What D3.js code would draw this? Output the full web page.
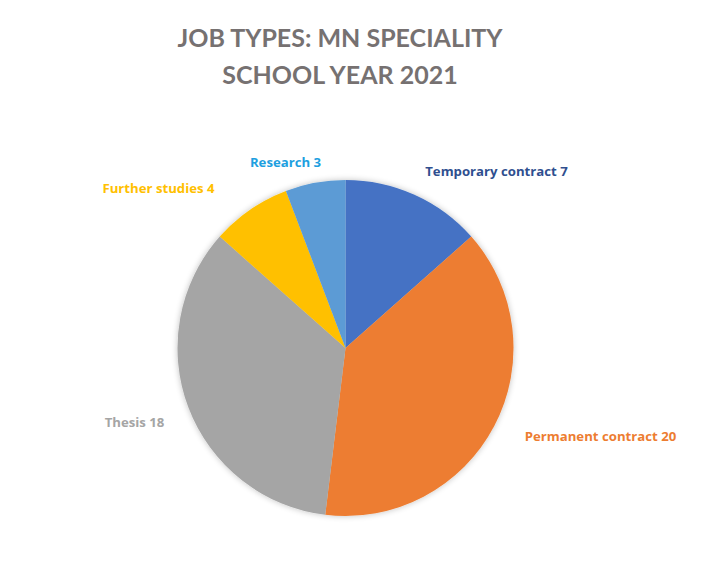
<!DOCTYPE html>
<html><head><meta charset="utf-8">
<script src="https://cdn.jsdelivr.net/npm/d3@7"></script>
<style>body{margin:0;background:#fff;}svg{display:block;font-family:Lato,"Open Sans",sans-serif;}</style>
</head><body>
<svg id="c" width="701" height="579"></svg>
<script>
const categories = ["Temporary contract", "Permanent contract", "Thesis", "Further studies", "Research"];
const values = [7, 20, 18, 4, 3];
const sliceColors = ["#4472C4", "#ED7D31", "#A5A5A5", "#FFC000", "#5B9BD5"];
const labelColors = ["#2F4F8F", "#ED7D31", "#A5A5A5", "#FFC000", "#1E9FE0"];
const titleLines = ["JOB TYPES: MN SPECIALITY", "SCHOOL YEAR 2021"];

const svg = d3.select("#c");
const cx = 345.5, cy = 348, R = 168;
// label anchor offsets relative to the pie centre (layout)
const labelOffsets = [[151, -172], [255, 93], [-211, 79], [-187, -155], [-60, -181]];

const defs = svg.append("defs");
const f = defs.append("filter").attr("id","sh").attr("x","-20%").attr("y","-20%").attr("width","140%").attr("height","140%");
f.append("feGaussianBlur").attr("in","SourceAlpha").attr("stdDeviation",3).attr("result","b");
f.append("feOffset").attr("in","b").attr("dx",0).attr("dy",0).attr("result","o");
f.append("feComponentTransfer").attr("in","o").attr("result","t").append("feFuncA").attr("type","linear").attr("slope",0.25);
const m = f.append("feMerge"); m.append("feMergeNode").attr("in","t"); m.append("feMergeNode").attr("in","SourceGraphic");

svg.append("g").selectAll("text").data(titleLines).join("text")
  .attr("x", 340).attr("y", (d,i)=>47+i*37)
  .attr("text-anchor","middle").attr("font-size",25).attr("font-weight","bold")
  .attr("fill","#767171").text(d=>d);

const pie = d3.pie().sort(null).value(d=>d)(values);
const arc = d3.arc().innerRadius(0).outerRadius(R);
const g = svg.append("g").attr("transform",`translate(${cx},${cy})`);
g.append("g").attr("filter","url(#sh)").selectAll("path").data(pie).join("path")
  .attr("d", arc).attr("fill",(d,i)=>sliceColors[i]);

g.selectAll("text.lbl").data(pie).join("text").attr("class","lbl")
  .attr("x",(d,i)=>labelOffsets[i][0]).attr("y",(d,i)=>labelOffsets[i][1])
  .attr("text-anchor","middle").attr("font-size",13.2).attr("font-weight","bold")
  .style("font-family","'Open Sans',sans-serif")
  .attr("fill",(d,i)=>labelColors[i])
  .text((d,i)=>`${categories[i]} ${values[i]}`);
</script>
</body></html>
